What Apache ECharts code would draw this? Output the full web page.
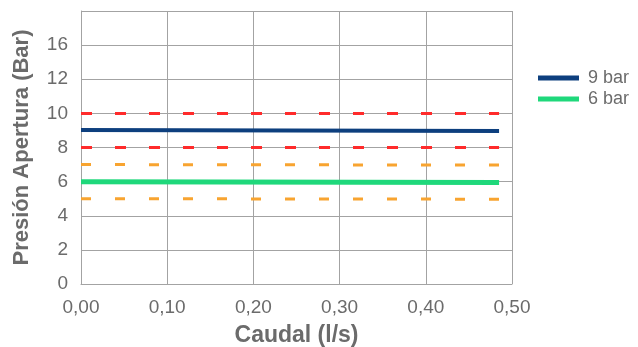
<!DOCTYPE html>
<html>
<head>
<meta charset="utf-8">
<script src="https://cdn.jsdelivr.net/npm/echarts@6/dist/echarts.min.js"></script>
<style>html,body{margin:0;padding:0;background:#fff;}#c{width:638px;height:347px;}</style>
</head>
<body>
<div id="c"></div>
<script>
// Data
var xPoints = [0, 0.485];
var series9bar = [9.03, 8.97];
var series6bar = [6.0, 5.95];
var redUpper = [10, 10];
var redLower = [8, 8];
var orangeUpper = [7, 6.97];
var orangeLower = [5, 4.97];
var yTickValues = [0, 2, 4, 6, 8, 10, 12, 14];
var yTickLabels = ['0', '2', '4', '6', '8', '10', '12', '16'];
var xTickLabels = ['0,00', '0,10', '0,20', '0,30', '0,40', '0,50'];
var legendNames = ['9 bar', '6 bar'];

function pairs(ys) { return xPoints.map(function (x, i) { return [x, ys[i]]; }); }

var gridColor = '#a3a3a3';
var textColor = '#6b6b6b';
var font = 'Liberation Sans, Arial, sans-serif';

var chart = echarts.init(document.getElementById('c'));
chart.setOption({
  animation: false,
  backgroundColor: '#fff',
  grid: { left: 81, right: 126, top: 11, bottom: 63, containLabel: false, outerBoundsMode: 'none' },
  legend: {
    data: legendNames,
    orient: 'vertical',
    left: 538, top: 69,
    padding: 0,
    icon: 'rect',
    itemWidth: 41, itemHeight: 5,
    itemGap: 3,
    textStyle: { color: textColor, fontSize: 18, fontFamily: font, padding: [0, 0, 0, 4] }
  },
  xAxis: {
    type: 'value', min: 0, max: 0.5, interval: 0.1,
    name: 'Caudal (l/s)', nameLocation: 'middle', nameGap: 40,
    nameTextStyle: { color: textColor, fontSize: 23, fontWeight: 'bold', fontFamily: font },
    axisLine: { show: true, lineStyle: { color: gridColor, width: 1 } },
    axisTick: { show: false },
    axisLabel: {
      color: textColor, fontSize: 19, fontFamily: font, margin: 14,
      formatter: function (v) { var i = Math.round(v * 10); return xTickLabels[i] || ''; }
    },
    splitLine: { show: true, lineStyle: { color: gridColor, width: 1 } }
  },
  yAxis: {
    type: 'value', min: 0, max: 16, interval: 2,
    name: 'Presión Apertura (Bar)', nameLocation: 'middle', nameGap: 48, nameRotate: 90,
    nameTextStyle: { color: textColor, fontSize: 22, fontWeight: 'bold', fontFamily: font },
    axisLine: { show: true, lineStyle: { color: gridColor, width: 1 } },
    axisTick: { show: false },
    axisLabel: {
      color: textColor, fontSize: 19, fontFamily: font, margin: 13,
      formatter: function (v) { var i = yTickValues.indexOf(v); return i >= 0 ? yTickLabels[i] : ''; }
    },
    splitLine: { show: true, lineStyle: { color: gridColor, width: 1 } }
  },
  series: [
    { name: 'red1', type: 'line', data: pairs(redUpper), symbol: 'none', silent: true,
      lineStyle: { color: '#ff2b2b', width: 3, type: [11, 23] } },
    { name: 'red2', type: 'line', data: pairs(redLower), symbol: 'none', silent: true,
      lineStyle: { color: '#ff2b2b', width: 3, type: [11, 23] } },
    { name: 'or1', type: 'line', data: pairs(orangeUpper), symbol: 'none', silent: true,
      lineStyle: { color: '#f8a430', width: 3, type: [10, 24] } },
    { name: 'or2', type: 'line', data: pairs(orangeLower), symbol: 'none', silent: true,
      lineStyle: { color: '#f8a430', width: 3, type: [10, 24] } },
    { name: '9 bar', type: 'line', data: pairs(series9bar), symbol: 'none', color: '#0d3f7e',
      lineStyle: { color: '#0d3f7e', width: 4 } },
    { name: '6 bar', type: 'line', data: pairs(series6bar), symbol: 'none', color: '#1fd87b',
      lineStyle: { color: '#1fd87b', width: 5 } }
  ]
});
</script>
</body>
</html>
